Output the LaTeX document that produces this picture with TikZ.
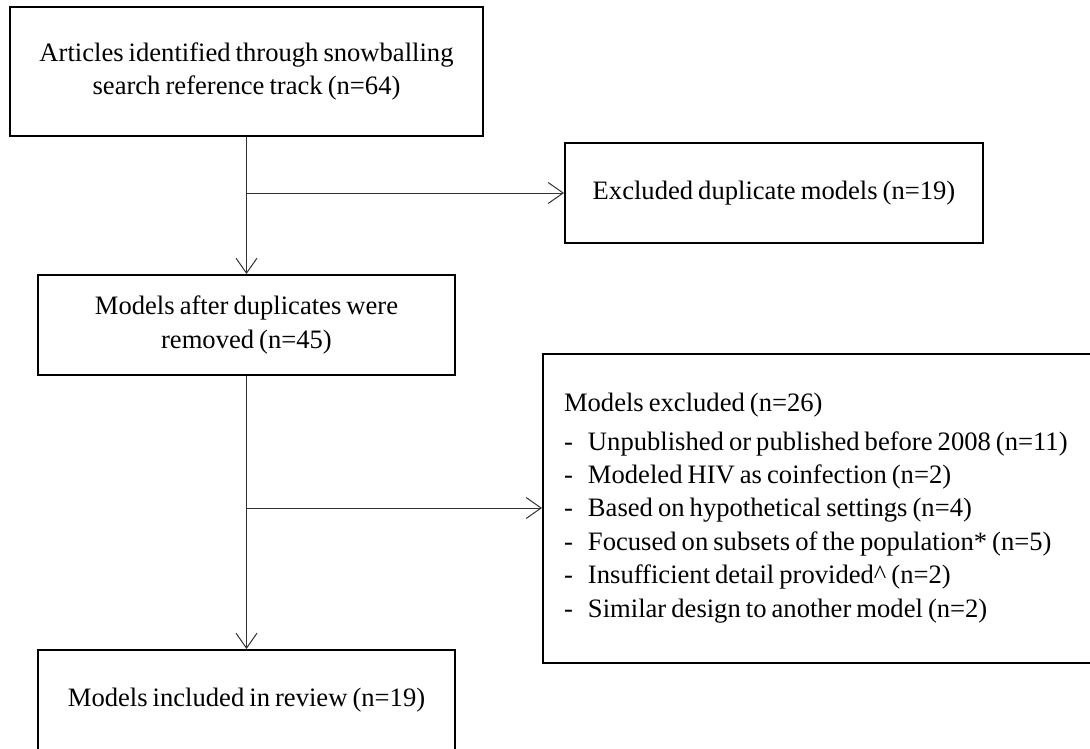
\documentclass[tikz,border=0pt]{standalone}
\usepackage{fontspec}
\setmainfont{Liberation Serif}[WordSpace=0.76]
\usetikzlibrary{arrows.meta}

\tikzset{
  box/.style={draw, line width=2pt, align=center, inner sep=0pt,
    font=\fontsize{26.6}{33.4}\selectfont},
  arr/.style={-{Straight Barb[length=15pt, width=21pt]}, line width=1pt, black!80}
}

\begin{document}
\begin{tikzpicture}[x=1pt, y=-1pt]
    \path[use as bounding box, fill=white] (0,0) rectangle (1090,748);

    % boxes
    \node[box, minimum width=473pt, minimum height=129pt] (arts) at (246.5,71.5) {Articles identified through snowballing\\search reference track (n=64)};
    \node[box, minimum width=418pt, minimum height=100pt] (dup) at (774,193) {Excluded duplicate models (n=19)};
    \node[box, minimum width=417pt, minimum height=100pt] (after) at (246.5,325) {Models after duplicates were\\removed (n=45)};
    \node[box, anchor=west, align=flush left, inner xsep=21pt, text width=540pt, minimum height=309pt] (excl) at (542,508)
      {Models excluded (n=26)\\[5pt]
       \makebox[24pt][l]{-}Unpublished or published before 2008 (n=11)\\
       \makebox[24pt][l]{-}Modeled HIV as coinfection (n=2)\\
       \makebox[24pt][l]{-}Based on hypothetical settings (n=4)\\
       \makebox[24pt][l]{-}Focused on subsets of the population* (n=5)\\
       \makebox[24pt][l]{-}Insufficient detail provided\textasciicircum{} (n=2)\\
       \makebox[24pt][l]{-}Similar design to another model (n=2)};
    \node[box, minimum width=417pt, minimum height=100pt] (incl) at (246.5,700) {Models included in review (n=19)};

    % branch points
    \coordinate (b1) at (246.5,193);
    \coordinate (b2) at (246.5,508);

    % arrows
    \draw[arr] (arts) -- (after);
    \draw[arr] (after) -- (incl);
    \draw[arr] (b1) -- (dup);
    \draw[arr] (b2) -- (excl);

\end{tikzpicture}
\end{document}
